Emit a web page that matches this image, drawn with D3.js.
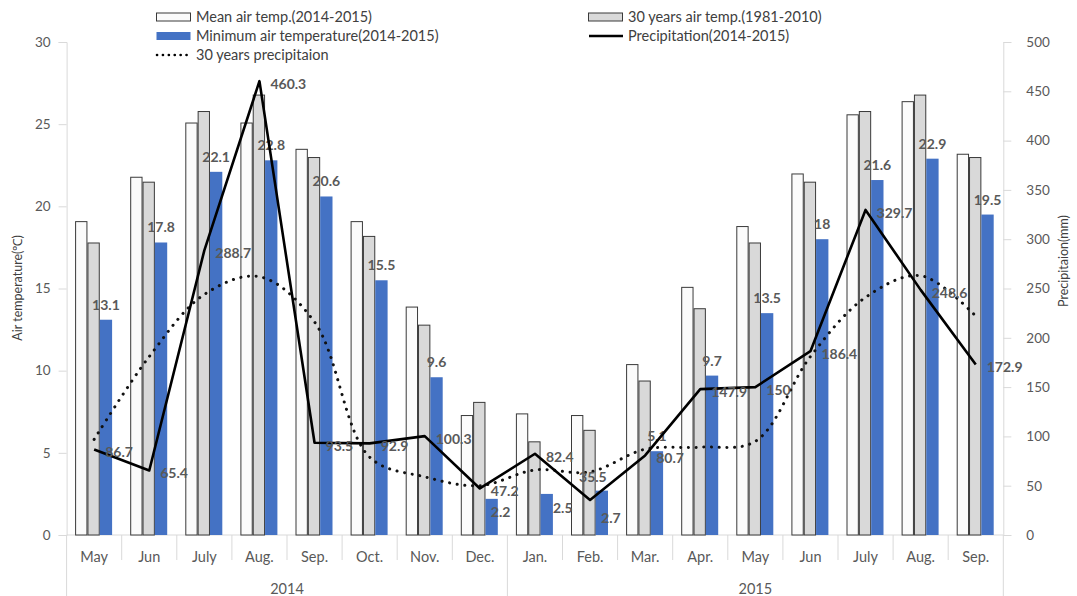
<!DOCTYPE html>
<html><head><meta charset="utf-8">
<script src="https://cdn.jsdelivr.net/npm/d3@7"></script>
<style>
body{margin:0;background:#fff;}
text{font-family:Lato,"Open Sans",sans-serif;}
</style></head>
<body><svg id="c" width="1077" height="596"></svg>
<script>
const months = ["May","Jun","July","Aug.","Sep.","Oct.","Nov.","Dec.","Jan.","Feb.","Mar.","Apr.","May","Jun","July","Aug.","Sep."];
const years = [{label:"2014", from:0, to:8},{label:"2015", from:8, to:17}];
const meanTemp = [19.1,21.8,25.1,25.1,23.5,19.1,13.9,7.3,7.4,7.3,10.4,15.1,18.8,22.0,25.6,26.4,23.2];
const climTemp = [17.8,21.5,25.8,26.8,23.0,18.2,12.8,8.1,5.7,6.4,9.4,13.8,17.8,21.5,25.8,26.8,23.0];
const minTemp  = [13.1,17.8,22.1,22.8,20.6,15.5,9.6,2.2,2.5,2.7,5.1,9.7,13.5,18,21.6,22.9,19.5];
const precip   = [86.7,65.4,288.7,460.3,93.5,92.9,100.3,47.2,82.4,35.5,80.7,147.9,150,186.4,329.7,248.6,172.9];
const climPrecip = [97,181,244,262,216,79,59,50,66,64,87,89,95,181,241,263,222];
const leftTicks = [0,5,10,15,20,25,30];
const rightTicks = [0,50,100,150,200,250,300,350,400,450,500];

const svg = d3.select("#c");
const L = 66.6, R = 1003.3, T = 42, B = 535;
const idx = d3.range(months.length);
const x = d3.scaleBand().domain(idx).range([L, R]).padding(0);
const x1 = d3.scaleBand().domain(["mean","clim","min"]).range([8.5, 8.5+37]);
const yL = d3.scaleLinear().domain([0,30]).range([B, T]);
const yR = d3.scaleLinear().domain([0,500]).range([B, T]);
const txt = "#595959", axc = "#d9d9d9";
// manually nudged data labels (as in the original): index -> [dx, dy] in px
const minLabelNudge = {7:[9,28], 8:[16,29], 9:[9,42]};
const precipLabelNudge = {9:[-22,-26]};

// axes
const ga = svg.append("g").attr("transform",`translate(${L},0)`)
  .call(d3.axisLeft(yL).tickValues(leftTicks).tickSize(8).tickPadding(8));
const gb = svg.append("g").attr("transform",`translate(${R},0)`)
  .call(d3.axisRight(yR).tickValues(rightTicks).tickSize(8).tickPadding(15));
[ga,gb].forEach(g=>{
  g.select(".domain").attr("stroke",axc);
  g.selectAll(".tick line").attr("stroke",axc);
  g.selectAll(".tick text").attr("fill",txt).style("font-size","13.5px").style("font-family","Lato");
});
// bottom axis
svg.append("line").attr("x1",L).attr("x2",R).attr("y1",B).attr("y2",B).attr("stroke",axc);
const bounds = d3.range(months.length+1);
svg.selectAll(".sep").data(bounds).join("line")
  .attr("x1",i=> i<months.length ? x(i) : R).attr("x2",i=> i<months.length ? x(i) : R)
  .attr("y1",B).attr("y2",i=> (i===0||i===8||i===17)?596:560)
  .attr("stroke",axc);
svg.selectAll(".mlab").data(idx).join("text")
  .attr("x",i=>x(i)+x.bandwidth()/2).attr("y",557).attr("dy","0.35em")
  .attr("text-anchor","middle").attr("fill",txt).style("font-size","14.5px").text(i=>months[i]);
svg.selectAll(".ylab").data(years).join("text")
  .attr("x",d=>(x(d.from) + (d.to<months.length?x(d.to):R))/2).attr("y",589).attr("dy","0.35em")
  .attr("text-anchor","middle").attr("fill",txt).style("font-size","14.5px").text(d=>d.label);

// axis titles
svg.append("text").attr("transform","translate(18,288) rotate(-90)").attr("text-anchor","middle")
  .attr("dy","0.35em").attr("fill","#404040").style("font-size","12.5px").text("Air temperature(℃)");
svg.append("text").attr("transform","translate(1064,261) rotate(-90)").attr("text-anchor","middle")
  .attr("dy","0.35em").attr("fill","#404040").style("font-size","12.5px").text("Precipitaion(mm)");

// bars
const bars = [
  {key:"mean", vals:meanTemp, fill:"#fbfbfb", stroke:"#3a3a3a"},
  {key:"clim", vals:climTemp, fill:"#d9d9d9", stroke:"#3a3a3a"},
  {key:"min", vals:minTemp, fill:"#4472C4", stroke:"none"}
];
bars.forEach(s=>{
  const o = s.stroke==="none"?0:0.5;
  svg.append("g").selectAll("rect").data(idx).join("rect")
    .attr("x",i=>x(i)+x1(s.key)+o)
    .attr("width",x1.bandwidth()-2*o)
    .attr("y",i=>yL(s.vals[i])+o)
    .attr("height",i=>B-yL(s.vals[i])-o)
    .attr("fill",s.fill).attr("stroke",s.stroke).attr("stroke-width",1);
});
// min temp labels
svg.append("g").selectAll("text").data(idx).join("text")
  .attr("x",i=>x(i)+x1("min")+x1.bandwidth()/2 + (minLabelNudge[i]?minLabelNudge[i][0]:0))
  .attr("y",i=>yL(minTemp[i])-10 + (minLabelNudge[i]?minLabelNudge[i][1]:0))
  .attr("text-anchor","middle").attr("fill",txt).style("font-size","14px").style("font-weight","bold")
  .text(i=>minTemp[i]);

// lines
const cx = i=>x(i)+x.bandwidth()/2;
svg.append("path").datum(idx)
  .attr("d",d3.line().x(cx).y(i=>yR(climPrecip[i])).curve(d3.curveCatmullRom))
  .attr("fill","none").attr("stroke","#111").attr("stroke-width",3)
  .attr("stroke-dasharray","0.1,7.6").attr("stroke-linecap","round");
svg.append("path").datum(idx)
  .attr("d",d3.line().x(cx).y(i=>yR(precip[i])))
  .attr("fill","none").attr("stroke","#000").attr("stroke-width",2.6).attr("stroke-linejoin","round");
svg.append("g").selectAll("text").data(idx).join("text")
  .attr("x",i=>cx(i)+11 + (precipLabelNudge[i]?precipLabelNudge[i][0]:0))
  .attr("y",i=>yR(precip[i])+3 + (precipLabelNudge[i]?precipLabelNudge[i][1]:0)).attr("dy","0.35em")
  .attr("fill",txt).style("font-size","14px").style("font-weight","bold")
  .text(i=>precip[i]);

// legend
const leg = [
  {x:156,y:17,type:"rect",fill:"#fbfbfb",stroke:"#3a3a3a",label:"Mean air temp.(2014-2015)"},
  {x:588,y:17,type:"rect",fill:"#d9d9d9",stroke:"#3a3a3a",label:"30 years air temp.(1981-2010)"},
  {x:156,y:36,type:"rect",fill:"#4472C4",stroke:"none",label:"Minimum air temperature(2014-2015)"},
  {x:588,y:36,type:"line",dash:null,label:"Precipitation(2014-2015)"},
  {x:156,y:55,type:"line",dash:"0.1,5.8",label:"30 years precipitaion"}
];
leg.forEach(d=>{
  const g = svg.append("g");
  if(d.type==="rect"){
    g.append("rect").attr("x",d.x+0.5).attr("y",d.y-4).attr("width",34).attr("height",8)
      .attr("fill",d.fill).attr("stroke",d.stroke);
  } else {
    g.append("line").attr("x1",d.x+1).attr("x2",d.x+35).attr("y1",d.y).attr("y2",d.y)
      .attr("stroke","#000").attr("stroke-width",2.6)
      .attr("stroke-dasharray",d.dash).attr("stroke-linecap",d.dash?"round":"butt");
  }
  g.append("text").attr("x",d.x+40).attr("y",d.y).attr("dy","0.35em")
    .attr("fill","#404040").style("font-size","14.5px").text(d.label);
});
</script></body></html>
